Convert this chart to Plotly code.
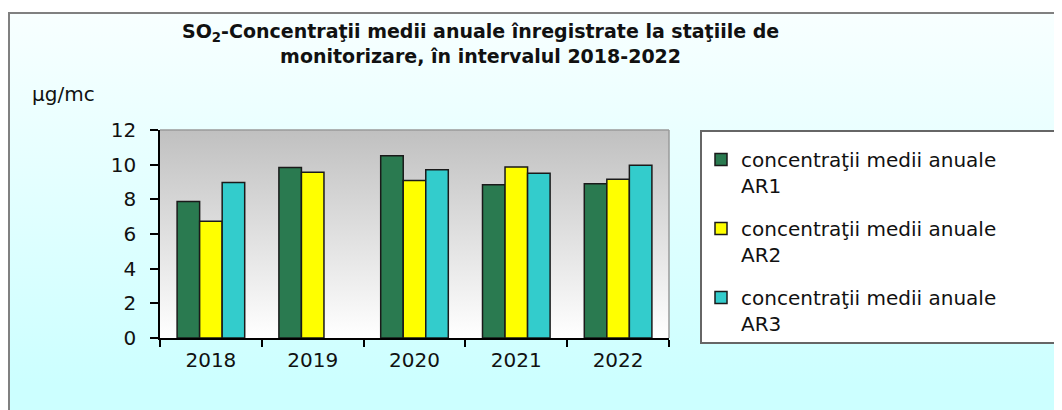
import base64
import plotly.graph_objects as go

# ---- data ----
years = ["2018", "2019", "2020", "2021", "2022"]
ar1 = [7.88, 9.83, 10.52, 8.84, 8.90]
ar2 = [6.73, 9.56, 9.09, 9.87, 9.16]
ar3 = [8.97, None, 9.70, 9.51, 9.97]
series_names = [
    "concentraţii medii anuale<br>AR1",
    "concentraţii medii anuale<br>AR2",
    "concentraţii medii anuale<br>AR3",
]
series_colors = ["#2a7a50", "#ffff00", "#33cccc"]
y_ticks = [0, 2, 4, 6, 8, 10, 12]
title_text = ("<b>SO<sub>2</sub>-Concentraţii medii anuale înregistrate la staţiile de<br>"
              "monitorizare, în intervalul 2018-2022</b>")

W, H = 1062, 410
OFF = 8  # page body margin of the browser
PL, PR, PT, PB = 160, 669, 130, 338  # plot area in screen pixels


def px2x(px):
    return (px - PL) / (PR - PL)


def px2y(py):
    return (PB - py) / (PB - PT)


def grad_uri(c_top, c_bot):
    svg = (
        '<svg xmlns="http://www.w3.org/2000/svg" width="100" height="100" '
        'viewBox="0 0 100 100" preserveAspectRatio="none">'
        '<defs><linearGradient id="g" x1="0" y1="0" x2="0" y2="1">'
        f'<stop offset="0" stop-color="{c_top}"/>'
        f'<stop offset="1" stop-color="{c_bot}"/>'
        '</linearGradient></defs>'
        '<rect x="0" y="0" width="100" height="100" fill="url(#g)"/></svg>'
    )
    return "data:image/svg+xml;base64," + base64.b64encode(svg.encode()).decode()


FONT = "DejaVu Sans"
TXT = "#111111"

fig = go.Figure()
for name, vals, col in zip(series_names, [ar1, ar2, ar3], series_colors):
    fig.add_trace(
        go.Bar(
            x=years,
            y=vals,
            name=name,
            legendgroup=name,
            marker=dict(color=col, line=dict(color="#1a1a1a", width=1.5)),
        )
    )

fig.update_layout(
    width=W,
    height=H,
    margin=dict(l=PL - OFF, r=W - (PR - OFF), t=PT - OFF, b=H - (PB - OFF)),
    paper_bgcolor="#ffffff",
    plot_bgcolor="rgba(0,0,0,0)",
    barmode="group",
    bargap=0.336,
    bargroupgap=0,
    font=dict(family=FONT, size=20, color=TXT),
    showlegend=True,
    legend=dict(
        x=px2x(701),
        y=px2y(140),
        xanchor="left",
        yanchor="top",
        bgcolor="rgba(0,0,0,0)",
        borderwidth=0,
        font=dict(family=FONT, size=20, color=TXT),
        valign="top",
        tracegroupgap=14,
        maxheight=400,
    ),
    xaxis=dict(
        type="category",
        tickson="boundaries",
        ticks="outside",
        ticklen=7,
        tickwidth=1.5,
        tickcolor="#000",
        showline=True,
        linecolor="#000",
        linewidth=1.5,
        showgrid=False,
        ticklabelstandoff=3,
        tickfont=dict(family=FONT, size=20, color=TXT),
    ),
    yaxis=dict(
        range=[0, 12],
        tickvals=y_ticks,
        ticks="outside",
        ticklen=8,
        tickwidth=1.5,
        tickcolor="#000",
        showline=True,
        linecolor="#000",
        linewidth=1.5,
        showgrid=False,
        zeroline=False,
        ticklabelstandoff=10,
        tickfont=dict(family=FONT, size=20, color=TXT),
    ),
    yaxis2=dict(
        overlaying="y",
        side="left",
        range=[0, 12],
        tickvals=y_ticks,
        ticks="inside",
        ticklen=8,
        tickwidth=1.5,
        tickcolor="#000",
        showticklabels=False,
        showline=False,
        showgrid=False,
        zeroline=False,
    ),
    images=[
        dict(
            source=grad_uri("#f8ffff", "#ccffff"),
            xref="paper", yref="paper",
            x=px2x(9), y=px2y(13),
            sizex=px2x(1075) - px2x(9), sizey=px2y(13) - px2y(385),
            xanchor="left", yanchor="top",
            sizing="stretch", layer="below",
        ),
        dict(
            source=grad_uri("#ccffff", "#ccffff"),
            xref="paper", yref="paper",
            x=px2x(9), y=px2y(384),
            sizex=px2x(1075) - px2x(9), sizey=px2y(384) - px2y(425),
            xanchor="left", yanchor="top",
            sizing="stretch", layer="below",
        ),
        dict(
            source=grad_uri("#c0c0c0", "#ffffff"),
            xref="paper", yref="paper",
            x=0, y=1, sizex=1, sizey=1,
            xanchor="left", yanchor="top",
            sizing="stretch", layer="below",
        ),
    ],
    shapes=[
        # outer chart border (left/top visible)
        dict(type="rect", xref="paper", yref="paper",
             x0=px2x(9), x1=px2x(1085), y0=px2y(435), y1=px2y(13),
             line=dict(color="#808080", width=2), fillcolor="rgba(0,0,0,0)", layer="below"),
        # legend box
        dict(type="rect", xref="paper", yref="paper",
             x0=px2x(701), x1=px2x(1060), y0=px2y(343), y1=px2y(131),
             line=dict(color="#666666", width=2), fillcolor="#ffffff", layer="below"),
        # plot area top / right border
        dict(type="line", xref="paper", yref="paper", x0=0, x1=1, y0=1, y1=1,
             line=dict(color="#9a9a9a", width=1.5), layer="below"),
        dict(type="line", xref="paper", yref="paper", x0=1, x1=1, y0=0, y1=1,
             line=dict(color="#9a9a9a", width=1.5), layer="below"),
    ],
    annotations=[
        dict(text=title_text,
             xref="paper", yref="paper", x=px2x(480), y=px2y(44),
             xanchor="center", yanchor="middle", showarrow=False,
             font=dict(family=FONT, size=19, color=TXT)),
        dict(text="µg/mc", xref="paper", yref="paper", x=px2x(30), y=px2y(94),
             xanchor="left", yanchor="middle", showarrow=False,
             font=dict(family=FONT, size=20, color=TXT)),
    ],
)

fig.write_html("out.html")
